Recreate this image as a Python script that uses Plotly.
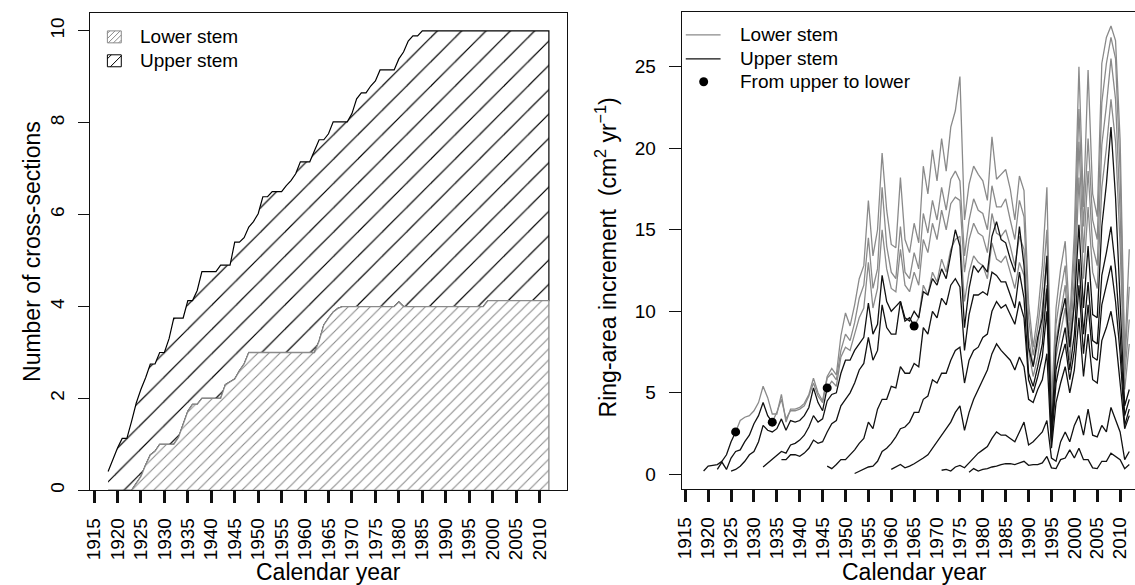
import plotly.graph_objects as go

W, H = 1135, 585
FONT = "Liberation Sans, Arial, Helvetica, sans-serif"
GREY = "#8a8a8a"

# ---------------- left panel: number of cross-sections ----------------
count_years = list(range(1918, 2013))
total_sections = [
    0.41, 0.68, 0.92, 1.13, 1.13, 1.50, 1.90, 2.20, 2.45, 2.75,   # 1918-1927
    2.75, 3.00, 3.00, 3.30, 3.75, 3.75, 3.75, 4.13, 4.13, 4.35,   # 1928-1937
    4.76, 4.76, 4.76, 4.76, 4.90, 4.90, 4.90, 5.40, 5.40, 5.50,   # 1938-1947
    5.73, 5.85, 6.02, 6.39, 6.39, 6.50, 6.50, 6.50, 6.63, 6.74,   # 1948-1957
    6.89, 7.15, 7.15, 7.15, 7.39, 7.63, 7.63, 7.76, 8.02, 8.02,   # 1958-1967
    8.02, 8.02, 8.20, 8.52, 8.65, 8.65, 8.80, 8.91, 9.15, 9.15,   # 1968-1977
    9.15, 9.15, 9.39, 9.54, 9.78, 9.89, 9.89, 10.0, 10.0, 10.0,   # 1978-1987
    10.0, 10.0, 10.0, 10.0, 10.0, 10.0, 10.0, 10.0, 10.0, 10.0,   # 1988-1997
    10.0, 10.0, 10.0, 10.0, 10.0, 10.0, 10.0, 10.0, 10.0, 10.0,   # 1998-2007
    10.0, 10.0, 10.0, 10.0, 10.0,                                 # 2008-2012
]
lower_sections = [
    0.0, 0.0, 0.0, 0.0, 0.0, 0.0, 0.15, 0.30, 0.55, 0.77,         # 1918-1927
    0.85, 1.00, 1.00, 1.00, 1.00, 1.15, 1.45, 1.72, 1.87, 1.87,   # 1928-1937
    2.00, 2.00, 2.00, 2.00, 2.00, 2.30, 2.36, 2.42, 2.60, 2.75,   # 1938-1947
    3.00, 3.00, 3.00, 3.00, 3.00, 3.00, 3.00, 3.00, 3.00, 3.00,   # 1948-1957
    3.00, 3.00, 3.00, 3.00, 3.00, 3.25, 3.60, 3.75, 3.88, 3.96,   # 1958-1967
    4.00, 4.00, 4.00, 4.00, 4.00, 4.00, 4.00, 4.00, 4.00, 4.00,   # 1968-1977
    4.00, 4.00, 4.10, 4.00, 4.00, 4.00, 4.00, 4.00, 4.00, 4.00,   # 1978-1987
    4.00, 4.00, 4.00, 4.00, 4.00, 4.00, 4.00, 4.00, 4.00, 4.00,   # 1988-1997
    4.00, 4.13, 4.13, 4.13, 4.13, 4.13, 4.13, 4.13, 4.13, 4.13,   # 1998-2007
    4.13, 4.13, 4.13, 4.13, 4.13,                                 # 2008-2012
]

# ---------------- right panel: ring-area increment ----------------
s1 = [0.2,
      0.5, 0.55, 0.6, 0.8, 1.2, 2.0, 2.6, 3.3, 3.5, 3.6,
      3.9, 4.4, 5.4, 4.7, 3.7, 3.7, 4.9, 3.2, 4.0, 4.0,
      4.1, 4.35, 4.9, 5.9, 5.0, 4.5, 6.0, 6.5, 6.1, 8.5,
      9.9, 9.1, 10.4, 12.0, 12.8, 16.8, 13.4, 15.0, 19.7, 16.2,
      14.1, 13.9, 18.2, 14.4, 13.6, 15.4, 14.2, 18.9, 17.2, 19.9,
      18.0, 20.6, 18.6, 21.3, 22.3, 24.4, 15.6, 17.8, 18.9, 18.4,
      18.0, 16.8, 20.7, 18.1, 18.4, 18.7, 17.5, 15.6, 18.3, 17.4,
      10.5, 7.8, 9.8, 12.8, 17.6, 4.2, 10.2, 12.6, 14.3, 9.4,
      14.8, 25.0, 16.4, 24.8, 17.2, 15.8, 25.2, 26.8, 27.5, 26.6,
      20.5, 7.2, 13.8]
s2 = [0.3, 0.75, 0.3, 1.0, 1.4, 1.5, 2.0, 2.4,
      3.1, 3.6, 4.4, 3.6, 3.2, 3.8, 4.6, 3.4, 3.9, 3.9,
      4.0, 4.2, 4.8, 5.6, 4.8, 4.4, 5.9, 6.2, 5.8, 7.6,
      8.6, 8.2, 9.3, 10.8, 11.6, 14.5, 11.4, 12.6, 17.6, 14.0,
      12.4, 12.0, 15.2, 12.4, 12.0, 13.6, 12.6, 16.0, 14.8, 16.8,
      15.6, 17.6, 16.2, 18.1, 18.6, 18.0, 13.4, 15.6, 16.9, 16.2,
      16.0, 15.0, 17.7, 16.4, 16.4, 16.9, 15.6, 14.4, 16.8, 15.8,
      9.6, 7.3, 9.0, 11.4, 15.0, 3.8, 9.2, 11.2, 12.8, 8.6,
      13.6, 22.4, 15.2, 20.6, 15.6, 14.4, 22.8, 25.2, 26.8, 25.5,
      18.5, 6.8, 11.5]
s3 = [0.2, 0.3, 0.5, 0.8, 1.2,
      1.4, 2.0, 3.0, 2.7, 2.6, 2.8, 3.4, 2.7, 3.3, 3.2,
      3.3, 3.6, 4.1, 5.3, 4.4, 3.9, 5.3, 5.7, 5.4, 7.2,
      7.8, 7.6, 8.6, 9.6, 10.2, 13.0, 10.2, 11.4, 15.0, 12.6,
      11.4, 11.2, 13.8, 11.6, 11.2, 12.4, 11.6, 14.4, 13.6, 15.4,
      14.4, 16.2, 15.0, 16.6, 17.0, 16.8, 12.4, 14.4, 15.4, 14.8,
      14.6, 13.6, 16.0, 14.8, 14.6, 15.0, 14.0, 12.8, 14.6, 13.8,
      8.4, 6.6, 8.0, 10.2, 13.2, 3.4, 8.2, 10.0, 11.6, 7.8,
      12.0, 20.4, 13.6, 18.6, 14.0, 12.8, 20.2, 22.6, 25.5, 23.0,
      16.0, 6.0, 9.5]
s4 = [0.45, 0.7, 0.9, 1.2, 1.4, 1.3, 1.8, 1.9,
      2.1, 2.4, 2.9, 3.6, 3.2, 3.4, 4.5, 4.9, 5.0, 6.2,
      7.0, 7.0, 7.6, 8.0, 8.4, 10.5, 8.6, 9.2, 12.2, 10.6,
      10.0, 10.3, 10.6, 9.4, 9.6, 9.1, 9.6, 11.6, 11.0, 12.4,
      11.8, 13.2, 12.4, 13.8, 14.4, 14.6, 10.6, 12.4, 13.4, 13.0,
      12.8, 12.0, 14.2, 13.2, 13.0, 13.4, 12.4, 11.4, 13.0, 12.2,
      7.6, 6.0, 7.2, 9.2, 11.6, 3.0, 7.2, 8.8, 10.2, 7.0,
      10.8, 18.2, 12.0, 16.4, 12.4, 11.4, 17.6, 20.0, 23.0, 20.4,
      14.0, 5.2, 8.0]
s5 = [0.9, 0.9, 1.2, 1.2,
      1.1, 1.3, 1.6, 2.1, 1.9, 2.0, 2.6, 3.1, 3.3, 4.2,
      4.6, 5.0, 5.6, 6.4, 6.8, 8.4, 7.0, 7.6, 10.4, 9.0,
      8.6, 8.6, 10.6, 9.6, 9.4, 10.0, 9.6, 11.2, 11.0, 12.0,
      11.6, 12.6, 12.0, 13.6, 15.0, 14.0, 9.0, 11.4, 12.8, 12.4,
      12.8, 12.4, 14.6, 15.5, 14.4, 14.2, 13.2, 12.4, 15.2, 12.8,
      7.8, 6.6, 8.4, 9.6, 13.4, 2.6, 7.8, 9.6, 10.8, 7.8,
      10.4, 15.3, 10.2, 14.0, 9.8, 9.6, 15.2, 17.8, 21.3, 17.0,
      10.6, 4.2, 5.2]
s6 = [0.5, 0.35, 0.6, 0.9,
      0.9, 1.2, 1.5, 1.9, 2.2, 3.2, 2.8, 4.0, 4.6, 4.6,
      5.4, 5.3, 6.6, 6.2, 6.2, 6.8, 6.6, 9.0, 8.6, 10.0,
      9.6, 10.8, 10.4, 11.6, 12.0, 11.5, 7.6, 9.8, 11.0, 11.0,
      11.2, 11.0, 12.4, 12.2, 11.8, 11.8, 11.0, 10.2, 12.4, 10.8,
      6.2, 5.4, 6.6, 8.0, 11.4, 2.2, 6.4, 7.8, 9.0, 6.4,
      8.6, 13.2, 8.6, 11.8, 8.2, 8.0, 12.2, 13.6, 15.2, 12.6,
      8.6, 3.6, 4.6]
s7 = [0.05, 0.2, 0.3, 0.45, 0.5, 0.8, 1.4, 1.6,
      1.9, 2.3, 2.8, 2.9, 3.2, 3.8, 3.8, 4.6, 4.8, 5.8,
      5.6, 6.2, 6.2, 7.0, 7.6, 7.8, 5.6, 7.0, 7.6, 7.8,
      8.4, 8.6, 10.0, 10.6, 10.2, 10.4, 9.8, 9.2, 10.6, 9.6,
      5.8, 5.0, 6.0, 7.2, 10.0, 2.0, 5.6, 7.0, 8.0, 5.8,
      7.6, 11.6, 7.4, 10.4, 7.2, 7.0, 10.4, 11.6, 12.8, 10.6,
      7.4, 3.0, 4.0]
s8 = [0.3, 0.45, 0.6, 0.4, 0.5, 0.65, 0.8, 1.0, 1.2, 1.6,
      2.0, 2.4, 2.8, 3.2, 3.8, 4.2, 2.7, 3.8, 4.6, 5.2,
      5.8, 6.4, 7.4, 8.0, 7.6, 7.3, 7.0, 6.4, 7.2, 6.6,
      4.6, 4.4, 5.2, 5.8, 7.4, 1.6, 4.4, 5.6, 6.6, 5.0,
      6.4, 9.6, 6.0, 8.6, 5.8, 5.6, 8.2, 9.0, 10.0, 8.4,
      5.8, 2.8, 3.6]
s9 = [0.25, 0.3, 0.2, 0.45, 0.55, 0.4, 0.7, 1.0, 1.3,
      1.5, 1.7, 2.2, 2.6, 2.4, 2.4, 2.2, 2.0, 2.6, 3.2,
      1.8, 2.0, 2.3, 2.6, 3.3, 1.0, 0.8, 2.0, 2.6, 2.0,
      3.0, 3.6, 2.4, 4.0, 2.4, 2.3, 3.0, 2.6, 4.1, 3.4,
      2.6, 0.9, 1.4]
s10 = [0.12, 0.35, 0.2,
       0.3, 0.35, 0.45, 0.5, 0.6, 0.65, 0.65, 0.6, 0.7, 0.8,
       0.55, 0.6, 0.6, 0.7, 1.1, 0.4, 0.35, 0.9, 1.0, 1.5,
       1.0, 1.6, 0.9, 0.9, 0.4, 0.35, 0.8, 0.8, 1.3, 1.1,
       0.9, 0.35, 0.6]

series_values = [s1, s2, s3, s4, s5, s6, s7, s8, s9, s10]
series_start = [1919, 1922, 1925, 1932, 1936, 1946, 1952, 1960, 1971, 1977]
series_switch = [1926, 1934, 1946, 1965, None, None, None, None, None, None]

tick_years = list(range(1915, 2011, 5))
left_yticks = [0, 2, 4, 6, 8, 10]
right_yticks = [0, 5, 10, 15, 20, 25]


def px(x):
    return x / W


def py(y):
    return 1 - y / H


fig = go.Figure()

# ---- left panel areas
poly_x = count_years + count_years[::-1]
fig.add_trace(go.Scatter(
    x=poly_x, y=total_sections + lower_sections[::-1],
    mode="lines", fill="toself", fillcolor="white",
    fillpattern=dict(shape="/", size=17.2, solidity=0.07, fgopacity=1,
                     fgcolor="black", bgcolor="white", fillmode="overlay"),
    line=dict(color="black", width=1.2),
    xaxis="x", yaxis="y", hoverinfo="skip", showlegend=False))
fig.add_trace(go.Scatter(
    x=poly_x, y=lower_sections + [0 for _ in count_years],
    mode="lines", fill="toself", fillcolor="white",
    fillpattern=dict(shape="/", size=7.8, solidity=0.14, fgopacity=1,
                     fgcolor="#8a8a8a", bgcolor="white", fillmode="overlay"),
    line=dict(color=GREY, width=1.3),
    xaxis="x", yaxis="y", hoverinfo="skip", showlegend=False))

# ---- right panel lines
grey_parts, black_parts, dots_x, dots_y = [], [], [], []
for vals, start, sw in zip(series_values, series_start, series_switch):
    yrs = list(range(start, start + len(vals)))
    if sw is None:
        black_parts.append((yrs, vals))
    else:
        k = sw - start
        black_parts.append((yrs[:k + 1], vals[:k + 1]))
        grey_parts.append((yrs[k:], vals[k:]))
        dots_x.append(sw)
        dots_y.append(vals[k])

for xs, ys in grey_parts:
    fig.add_trace(go.Scatter(x=xs, y=ys, mode="lines",
                             line=dict(color=GREY, width=1.3),
                             xaxis="x2", yaxis="y2", hoverinfo="skip", showlegend=False))
for xs, ys in black_parts:
    fig.add_trace(go.Scatter(x=xs, y=ys, mode="lines",
                             line=dict(color="#111111", width=1.3),
                             xaxis="x2", yaxis="y2", hoverinfo="skip", showlegend=False))
fig.add_trace(go.Scatter(x=dots_x, y=dots_y, mode="markers",
                         marker=dict(color="black", size=9, line=dict(width=0)),
                         xaxis="x2", yaxis="y2", hoverinfo="skip", showlegend=False))

axis_common = dict(showgrid=False, zeroline=False, showline=True, linecolor="#111111",
                   linewidth=1.3, ticks="outside", tickcolor="#111111",
                   tickfont=dict(family=FONT, size=19, color="black"))

fig.update_layout(
    width=W, height=H, autosize=False,
    margin=dict(l=0, r=0, t=0, b=0),
    paper_bgcolor="white", plot_bgcolor="white",
    showlegend=False,
    font=dict(family=FONT, color="black"),
    xaxis=dict(domain=[px(84), px(563)], range=[1914.24, 2015.76], anchor="y",
               tickmode="array", tickvals=tick_years, ticktext=[str(t) for t in tick_years],
               tickangle=-90, ticklen=12, tickwidth=2.5, mirror=True,
               ticklabelstandoff=7, **axis_common),
    yaxis=dict(domain=[py(492), py(13)], range=[0, 10.39], anchor="x",
               tickmode="array", tickvals=left_yticks, ticktext=[str(t) for t in left_yticks],
               tickangle=-90, ticklen=11, tickwidth=1.2, mirror=True,
               ticklabelstandoff=7, **axis_common),
    xaxis2=dict(domain=[px(679), 1.0], range=[1914.24, 2013.25], anchor="y2",
                tickmode="array", tickvals=tick_years, ticktext=[str(t) for t in tick_years],
                tickangle=-90, ticklen=12, tickwidth=2.5, mirror=True,
                ticklabelstandoff=7, **axis_common),
    yaxis2=dict(domain=[py(491), py(12)], range=[-0.92, 28.36], anchor="x2",
                tickmode="array", tickvals=right_yticks, ticktext=[str(t) for t in right_yticks],
                tickangle=0, ticklen=12, tickwidth=1.2, mirror=False,
                ticklabelstandoff=9, **axis_common),
)

shapes = []
annotations = []


def hatch_lines(x0, y0, x1, y1, step, offset, color):
    out = []
    c = x0 + y0 + offset
    while c < x1 + y1:
        xa = max(x0, c - y1)
        xb = min(x1, c - y0)
        if xb > xa:
            out.append(dict(type="line", xref="paper", yref="paper",
                            x0=px(xa), y0=py(c - xa), x1=px(xb), y1=py(c - xb),
                            line=dict(color=color, width=1)))
        c += step
    return out


# left legend keys
shapes += hatch_lines(101, 31, 115, 43, 5.2, 2.5, GREY)
shapes.append(dict(type="rect", xref="paper", yref="paper", x0=px(101), x1=px(115),
                   y0=py(43), y1=py(31), line=dict(color=GREY, width=1)))
shapes += hatch_lines(101, 55, 115, 67, 11, 4, "black")
shapes.append(dict(type="rect", xref="paper", yref="paper", x0=px(101), x1=px(115),
                   y0=py(67), y1=py(55), line=dict(color="black", width=1)))
for txt, yy in [("Lower stem", 37), ("Upper stem", 61)]:
    annotations.append(dict(text=txt, xref="paper", yref="paper", x=px(132), y=py(yy),
                            xanchor="left", yanchor="middle", showarrow=False,
                            font=dict(family=FONT, size=19, color="black")))

# right legend
shapes.append(dict(type="line", xref="paper", yref="paper", x0=px(683), x1=px(718),
                   y0=py(35), y1=py(35), line=dict(color=GREY, width=1.3)))
shapes.append(dict(type="line", xref="paper", yref="paper", x0=px(683), x1=px(718),
                   y0=py(59), y1=py(59), line=dict(color="#111111", width=1.3)))
shapes.append(dict(type="circle", xref="paper", yref="paper", x0=px(696.5), x1=px(705.5),
                   y0=py(86.5), y1=py(77.5), fillcolor="black", line=dict(width=0)))
for txt, yy in [("Lower stem", 35), ("Upper stem", 59), ("From upper to lower", 82)]:
    annotations.append(dict(text=txt, xref="paper", yref="paper", x=px(736), y=py(yy),
                            xanchor="left", yanchor="middle", showarrow=False,
                            font=dict(family=FONT, size=19, color="black")))

# axis titles
annotations.append(dict(text="Number of cross-sections", xref="paper", yref="paper",
                        x=px(25), y=py(252), textangle=-90, showarrow=False,
                        xanchor="center", yanchor="middle",
                        font=dict(family=FONT, size=23, color="black")))
annotations.append(dict(text="Calendar year", xref="paper", yref="paper",
                        x=px(323), y=py(574), showarrow=False,
                        xanchor="center", yanchor="middle",
                        font=dict(family=FONT, size=23, color="black")))
annotations.append(dict(text="Calendar year", xref="paper", yref="paper",
                        x=px(913), y=py(574), showarrow=False,
                        xanchor="center", yanchor="middle",
                        font=dict(family=FONT, size=23, color="black")))
annotations.append(dict(text="Ring-area increment  (cm<sup>2</sup> yr<sup>\u22121</sup>)",
                        xref="paper", yref="paper",
                        x=px(603), y=py(258), textangle=-90, showarrow=False,
                        xanchor="center", yanchor="middle",
                        font=dict(family=FONT, size=23, color="black")))

fig.update_layout(shapes=shapes, annotations=annotations)
fig.write_html("out.html")
